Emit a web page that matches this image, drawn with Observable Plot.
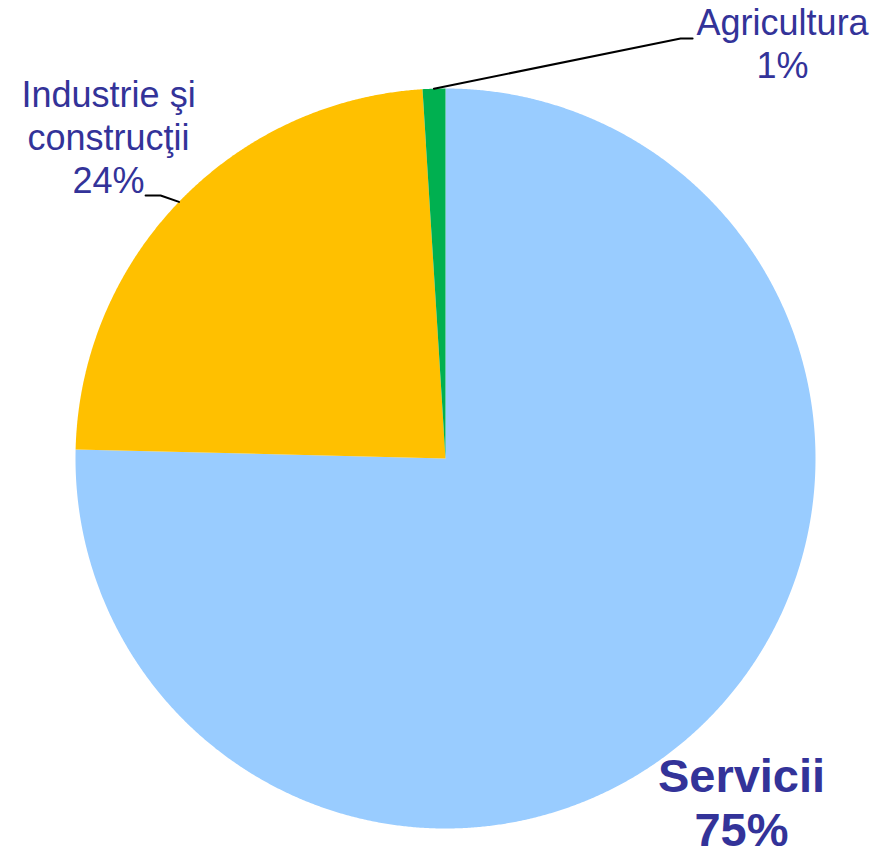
<!DOCTYPE html>
<html>
<head>
<meta charset="utf-8">
<script src="https://cdn.jsdelivr.net/npm/d3@7"></script>
<script src="https://cdn.jsdelivr.net/npm/@observablehq/plot@0.6"></script>
<style>
  html, body { margin: 0; padding: 0; background: #ffffff; }
  #chart svg { display: block; }
</style>
</head>
<body>
<div id="chart"></div>
<script>
// ---- data ----
const categories = ["Servicii", "Industrie şi construcţii", "Agricultura"];
const labelLines = ["Servicii", "Industrie şi\nconstrucţii", "Agricultura"];
const values = [75.39, 23.62, 0.99];
const percentLabels = ["75%", "24%", "1%"];
const colors = ["#99CCFF", "#FFC000", "#00B050"];

// ---- layout (pixels) ----
const W = 890, H = 855;
const R = 370; // pie radius in px
const labelOffsets = [[37.6, 122.2], [-70.4, -8.4], [348.6, -10.2]]; // label (last baseline) from rim point
const leaderOffsets = [null, [[-18.4, -6.4], [-33.4, -6.4]], [[246.6, -50.2], [258.6, -50.2]]];

// ---- pie geometry built from values ----
const total = d3.sum(values);
const cum = d3.cumsum(values);
const slices = values.map((v, i) => {
  const a0 = ((cum[i] - v) / total) * 2 * Math.PI;
  const a1 = (cum[i] / total) * 2 * Math.PI;
  return {cat: categories[i], a0, a1, mid: (a0 + a1) / 2};
});
const polyPts = [];
slices.forEach(s => {
  polyPts.push({cat: s.cat, x: 0, y: 0});
  const n = Math.max(2, Math.ceil((s.a1 - s.a0) / (Math.PI / 720)));
  for (let k = 0; k <= n; k++) {
    const a = s.a0 + (s.a1 - s.a0) * k / n;
    polyPts.push({cat: s.cat, x: Math.sin(a), y: Math.cos(a)});
  }
  polyPts.push({cat: s.cat, x: 0, y: 0});
});
const rim = slices.map(s => ({x: Math.sin(s.mid), y: Math.cos(s.mid)}));
const px = d => d / R; // pixel offset to data units

const leaderPts = [];
slices.forEach((s, i) => {
  if (!leaderOffsets[i]) return;
  leaderPts.push({cat: s.cat, x: rim[i].x, y: rim[i].y});
  leaderOffsets[i].forEach(([ox, oy]) => leaderPts.push({cat: s.cat, x: rim[i].x + px(ox), y: rim[i].y - px(oy)}));
});
const labels = slices.map((s, i) => ({
  cat: s.cat,
  text: labelLines[i] + "\n" + percentLabels[i],
  x: rim[i].x + px(labelOffsets[i][0]),
  y: rim[i].y - px(labelOffsets[i][1]),
  bold: i === 0
}));

const chart = Plot.plot({
  width: W,
  height: H,
  marginLeft: 75,
  marginRight: 75,
  marginTop: 88,
  marginBottom: 27,
  x: {domain: [-1, 1], axis: null},
  y: {domain: [-1, 1], axis: null},
  color: {domain: categories, range: colors},
  style: {background: "#ffffff"},
  marks: [
    Plot.line(polyPts, {x: "x", y: "y", z: "cat", fill: "cat", stroke: "none", curve: "linear"}),
    Plot.line(leaderPts, {x: "x", y: "y", z: "cat", stroke: "#000000", strokeWidth: 2}),
    Plot.text(labels.filter(d => !d.bold), {
      x: "x", y: "y", text: "text", textAnchor: "middle", lineAnchor: "bottom",
      lineHeight: 1.2, fontSize: 36, fontFamily: "Liberation Sans, Arial, sans-serif",
      fill: "#333399"
    }),
    Plot.text(labels.filter(d => d.bold), {
      x: "x", y: "y", text: "text", textAnchor: "middle", lineAnchor: "bottom",
      lineHeight: 1.13, fontSize: 47, fontWeight: "bold", fontFamily: "Liberation Sans, Arial, sans-serif",
      fill: "#333399"
    })
  ]
});
document.getElementById("chart").appendChild(chart);
</script>
</body>
</html>
